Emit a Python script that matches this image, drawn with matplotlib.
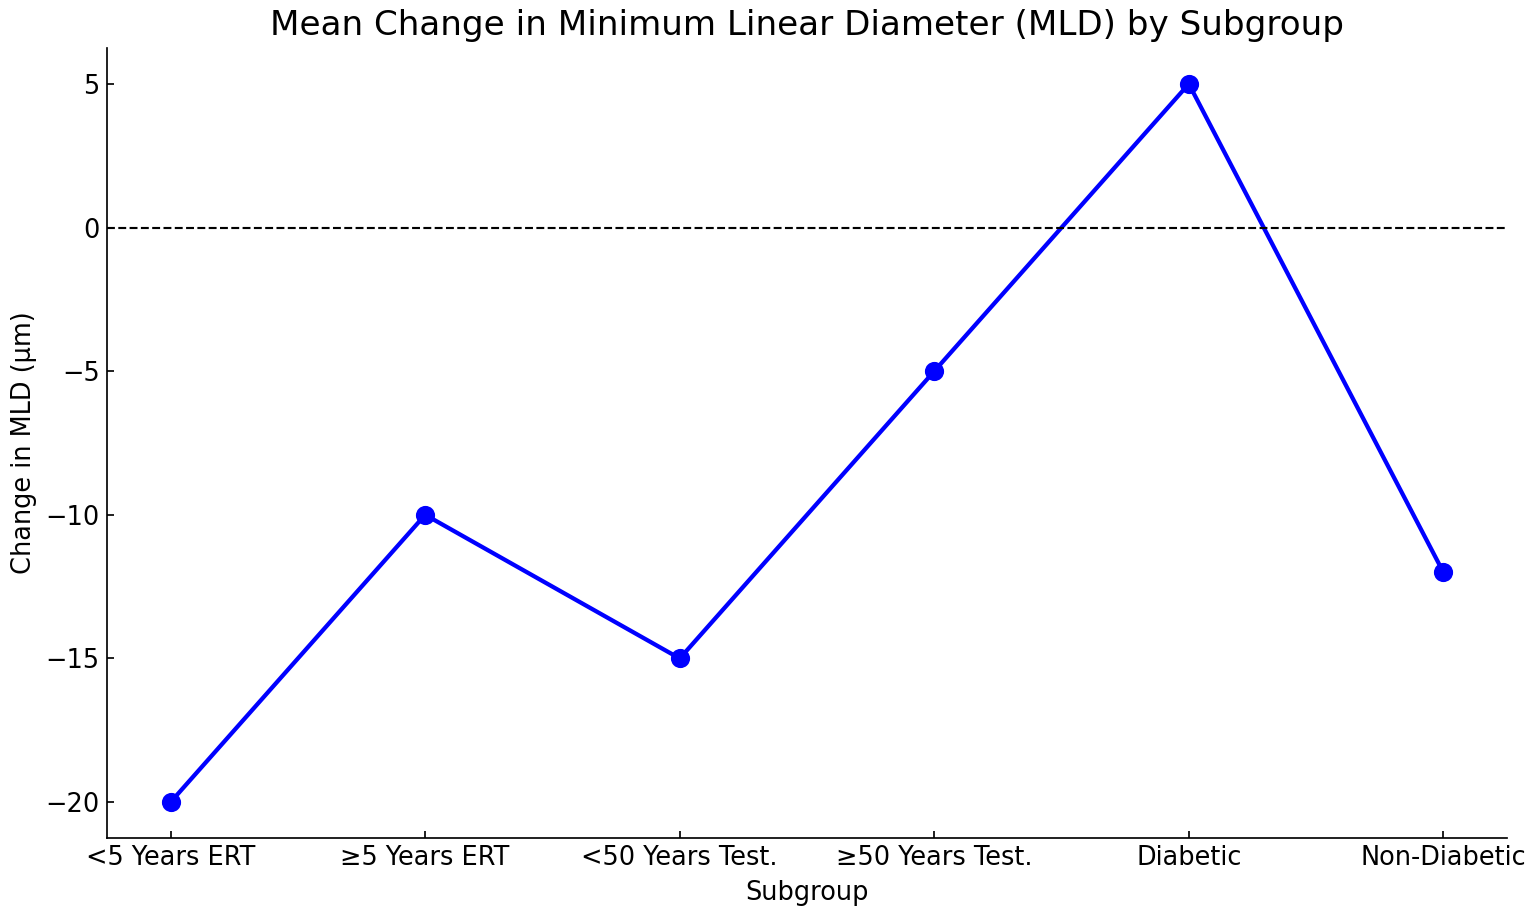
import matplotlib
matplotlib.use("Agg")
import matplotlib.pyplot as plt

subgroups = ["<5 Years ERT", "≥5 Years ERT", "<50 Years Test.", "≥50 Years Test.", "Diabetic", "Non-Diabetic"]
mld_change = [-20, -10, -15, -5, 5, -12]

fig = plt.figure(figsize=(10, 914 / 153.5), dpi=153.5)
ax = fig.add_axes([107 / 1535, 1 - 838 / 914, 1400 / 1535, 790 / 914])

ax.plot(subgroups, mld_change, marker="o", color="blue", linewidth=2, markersize=8)
ax.axhline(0, color="black", linestyle="--", linewidth=1)

ax.set_title("Mean Change in Minimum Linear Diameter (MLD) by Subgroup", fontsize=16)
ax.set_xlabel("Subgroup", fontsize=12)
ax.set_ylabel("Change in MLD (µm)", fontsize=12)
ax.tick_params(direction="in", labelsize=12)
ax.spines["top"].set_visible(False)
ax.spines["right"].set_visible(False)

fig.savefig("out.png", dpi=153.5)
